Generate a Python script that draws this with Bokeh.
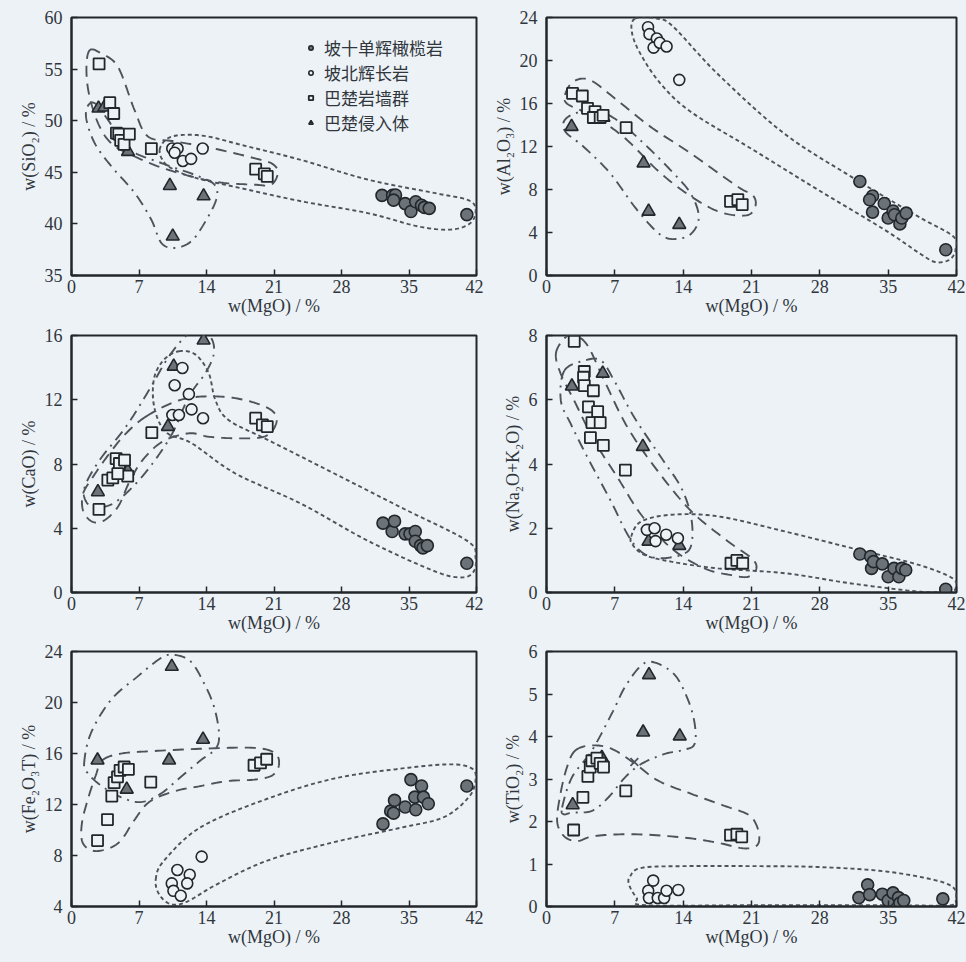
import numpy as np
from bokeh.plotting import figure
from bokeh.layouts import gridplot
from bokeh.models import Range1d, FixedTicker, Legend, LegendItem
from bokeh.embed import file_html
from bokeh.resources import INLINE

# ---------------- data ----------------
GROUPS = ["坡十单辉橄榄岩", "坡北辉长岩", "巴楚岩墙群", "巴楚侵入体"]
X_TICKS = [0, 7, 14, 21, 28, 35, 42]

# SiO2
SIO2_OL_MGO = [32.2, 33.3, 33.6, 33.4, 34.6, 35.2, 35.7, 36.3, 36.6, 37.1, 41.0]
SIO2_OL = [42.76, 42.76, 42.8, 42.3, 41.96, 41.2, 42.15, 41.8, 41.6, 41.5, 40.9]
SIO2_GB_MGO = [10.45, 11.0, 10.7, 11.55, 12.4, 13.6]
SIO2_GB = [47.3, 47.3, 46.9, 46.1, 46.3, 47.3]
SIO2_DK_MGO = [2.86, 3.97, 4.38, 4.66, 4.9, 5.1, 5.45, 6.0, 8.28, 19.1, 20.0, 20.3]
SIO2_DK = [55.5, 51.75, 50.7, 48.8, 48.7, 48.1, 47.7, 48.7, 47.3, 45.3, 44.85, 44.6]
SIO2_IN_MGO = [2.8, 3.4, 5.86, 10.2, 13.7, 10.5]
SIO2_IN = [51.2, 51.3, 47.0, 43.7, 42.7, 38.8]

# Al2O3
AL_OL_MGO = [32.1, 33.4, 33.1, 33.4, 34.6, 35.0, 35.5, 35.65, 36.2, 36.4, 36.85, 40.9]
AL_OL = [8.75, 7.4, 7.05, 5.9, 6.7, 5.35, 6.0, 5.65, 4.8, 5.35, 5.8, 2.4]
AL_GB_MGO = [10.4, 10.55, 11.3, 10.97, 11.6, 12.3, 13.6]
AL_GB = [23.1, 22.45, 22.05, 21.2, 21.65, 21.3, 18.2]
AL_DK_MGO = [2.67, 3.67, 4.2, 4.97, 4.8, 5.5, 5.8, 8.16, 18.85, 19.6, 20.05]
AL_DK = [16.95, 16.7, 15.55, 15.25, 14.7, 14.7, 14.9, 13.75, 6.9, 7.05, 6.6]
AL_IN_MGO = [2.57, 5.83, 9.94, 10.46, 13.6]
AL_IN = [13.85, 14.7, 10.45, 5.97, 4.73]

# CaO
CA_OL_MGO = [32.3, 33.25, 33.5, 34.6, 35.1, 35.65, 35.65, 36.2, 36.45, 36.9, 41.0]
CA_OL = [4.32, 3.8, 4.44, 3.65, 3.65, 3.8, 3.19, 2.92, 2.78, 2.92, 1.82]
CA_GB_MGO = [11.5, 10.7, 12.17, 12.45, 10.46, 11.14, 13.64]
CA_GB = [13.98, 12.9, 12.35, 11.4, 11.05, 11.05, 10.85]
CA_DK_MGO = [2.85, 3.77, 4.28, 4.63, 4.97, 5.5, 5.83, 4.8, 8.33, 19.1, 19.8, 20.3]
CA_DK = [5.17, 7.0, 7.13, 8.34, 8.03, 8.24, 7.24, 7.4, 9.95, 10.85, 10.43, 10.33]
CA_IN_MGO = [2.74, 5.83, 10.0, 10.6, 13.7]
CA_IN = [6.26, 7.57, 10.33, 14.08, 15.7]

# Na2O+K2O
NK_OL_MGO = [32.1, 33.2, 33.3, 33.5, 34.4, 35.0, 35.6, 36.1, 36.4, 36.8, 40.9]
NK_OL = [1.2, 1.12, 0.75, 0.96, 0.89, 0.49, 0.75, 0.49, 0.75, 0.7, 0.1]
NK_GB_MGO = [10.28, 11.07, 11.17, 12.26, 13.46]
NK_GB = [1.95, 2.0, 1.6, 1.8, 1.69]
NK_DK_MGO = [2.84, 3.87, 3.8, 3.87, 4.8, 4.3, 5.24, 4.66, 5.5, 4.5, 5.82, 8.08, 18.9, 19.5, 20.1]
NK_DK = [7.82, 6.88, 6.7, 6.44, 6.28, 5.78, 5.63, 5.29, 5.29, 4.82, 4.58, 3.81, 0.91, 1.0, 0.91]
NK_IN_MGO = [2.6, 5.76, 9.87, 10.45, 13.6]
NK_IN = [6.42, 6.82, 4.54, 1.59, 1.46]

# Fe2O3T
FE_OL_MGO = [32.3, 33.1, 33.4, 33.5, 34.6, 35.2, 35.6, 35.7, 36.3, 36.5, 37.0, 41.0]
FE_OL = [10.48, 11.48, 11.32, 12.32, 11.8, 13.95, 12.58, 11.59, 13.45, 12.58, 12.06, 13.45]
FE_GB_MGO = [13.5, 10.98, 12.26, 10.4, 12.0, 10.57, 11.33]
FE_GB = [7.91, 6.86, 6.49, 5.81, 5.81, 5.23, 4.84]
FE_DK_MGO = [2.7, 3.73, 4.18, 4.42, 4.77, 5.04, 5.46, 5.9, 8.22, 18.93, 19.6, 20.24]
FE_DK = [9.17, 10.82, 12.66, 13.71, 14.16, 14.68, 14.94, 14.76, 13.76, 15.08, 15.26, 15.55]
FE_IN_MGO = [2.7, 5.73, 10.12, 10.4, 13.64]
FE_IN = [15.47, 13.19, 15.47, 22.82, 17.1]

# TiO2
TI_OL_MGO = [32.0, 32.9, 33.1, 34.4, 35.0, 35.5, 36.06, 36.2, 36.6, 40.6]
TI_OL = [0.21, 0.51, 0.28, 0.29, 0.14, 0.32, 0.21, 0.08, 0.14, 0.18]
TI_GB_MGO = [10.93, 10.42, 10.5, 11.4, 12.05, 12.3, 13.5]
TI_GB = [0.61, 0.37, 0.2, 0.2, 0.2, 0.37, 0.39]
TI_DK_MGO = [2.78, 3.73, 4.24, 4.48, 4.65, 5.16, 5.5, 5.84, 8.12, 18.85, 19.5, 20.0]
TI_DK = [1.8, 2.57, 3.06, 3.28, 3.43, 3.49, 3.37, 3.28, 2.72, 1.68, 1.7, 1.64]
TI_IN_MGO = [2.68, 5.67, 9.9, 10.5, 13.65]
TI_IN = [2.39, 3.5, 4.1, 5.45, 4.01]
TI_X_MGO = [9.0]
TI_X = [3.4]

# hand-drawn field outlines (vertices in data units)
ENV_SIO2_DOT = [(9.14, 47.18), (10.0, 48.3), (11.72, 48.63), (14.14, 48.47), (17.6, 47.66), (23.8, 46.2),
                (30.7, 44.3), (37.6, 43.0), (41.0, 42.35), (41.9, 41.5), (41.4, 40.1), (39.3, 39.45),
                (35.9, 39.77), (30.7, 41.05), (23.8, 42.2), (16.9, 43.6), (13.1, 44.4), (11.03, 45.08),
                (9.66, 45.9)]
ENV_SIO2_DASH = [(1.9, 56.84), (3.1, 56.5), (4.83, 55.2), (6.55, 51.0), (7.93, 48.47), (10.7, 48.0),
                 (14.8, 47.3), (19.65, 46.2), (21.0, 45.7), (21.4, 44.9), (20.7, 43.8), (19.0, 43.8),
                 (14.8, 44.1), (10.0, 45.25), (6.55, 46.53), (4.14, 47.8), (2.76, 49.75), (1.8, 52.65),
                 (1.55, 55.2)]
ENV_SIO2_DOTDASH = [(1.66, 51.37), (2.41, 51.69), (3.79, 50.08), (5.86, 47.3), (9.31, 45.9), (12.76, 44.76),
                    (14.83, 43.8), (15.0, 42.35), (13.8, 40.1), (12.4, 38.3), (10.7, 37.67), (9.31, 38.16),
                    (8.28, 40.4), (6.55, 43.0), (4.14, 45.57), (2.41, 47.82), (1.55, 50.1)]

ENV_AL_DOT = [(9.08, 23.9), (11.3, 23.9), (13.0, 23.13), (17.48, 18.8), (24.3, 13.24), (31.2, 9.2),
              (38.05, 5.5), (41.65, 3.65), (41.9, 2.41), (41.3, 1.48), (39.9, 1.24), (38.4, 1.95),
              (34.6, 4.27), (27.8, 7.98), (20.9, 11.84), (14.74, 15.25), (11.66, 17.88), (9.6, 20.66),
              (8.74, 22.67)]
ENV_AL_DASH = [(1.89, 16.8), (2.74, 18.03), (4.46, 18.18), (7.2, 16.33), (10.63, 13.85), (14.74, 11.38),
               (19.54, 8.29), (21.08, 7.51), (21.43, 6.58), (20.74, 5.66), (18.85, 5.66), (16.8, 6.28),
               (14.06, 7.82), (11.31, 9.83), (8.23, 12.62), (5.49, 14.47), (3.43, 15.4), (2.06, 16.02)]
ENV_AL_DOTDASH = [(1.71, 14.16), (2.57, 14.94), (4.8, 15.4), (7.2, 14.47), (9.94, 12.31), (12.68, 9.83),
                  (14.74, 7.67), (15.6, 5.5), (14.9, 3.96), (13.37, 3.4), (11.66, 3.8), (9.26, 6.12),
                  (6.51, 9.52), (3.77, 12.0), (2.06, 13.24)]

ENV_CA_DOT = [(11.14, 15.02), (12.86, 14.81), (14.23, 13.66), (14.91, 12.0), (16.28, 10.74), (20.4, 9.49),
              (27.25, 7.41), (34.1, 5.32), (41.0, 3.23), (41.9, 2.19), (41.65, 1.25), (40.3, 0.94),
              (37.5, 1.36), (30.7, 3.23), (23.8, 5.53), (17.0, 7.41), (12.5, 9.28), (9.77, 10.0),
              (8.57, 11.58), (8.57, 13.35), (9.6, 14.5)]
ENV_CA_DASH = [(7.71, 10.95), (10.8, 11.89), (13.54, 12.2), (16.97, 12.1), (20.05, 11.58), (21.25, 10.95),
               (20.9, 10.12), (19.7, 9.66), (16.97, 9.6), (14.23, 9.7), (12.17, 9.91), (9.43, 9.39),
               (7.37, 8.24), (6.0, 6.88), (4.8, 5.32), (3.26, 4.44), (2.06, 4.44), (1.2, 5.1),
               (1.2, 6.15), (2.23, 7.2), (3.94, 8.66), (5.66, 9.91)]
ENV_CA_DOTDASH = [(12.17, 16.13), (13.54, 16.2), (14.57, 15.75), (14.74, 14.81), (13.88, 13.66), (12.17, 12.2),
                  (10.46, 9.91), (8.4, 8.03), (6.34, 6.57), (4.29, 5.53), (2.57, 5.32), (1.54, 5.63),
                  (1.37, 6.57), (2.91, 8.24), (5.66, 10.33), (8.06, 12.62), (10.11, 14.7)]

ENV_NK_DOT = [(8.67, 1.74), (9.7, 2.21), (12.78, 2.42), (17.57, 2.37), (24.43, 1.9), (31.28, 1.38),
              (38.13, 0.86), (41.6, 0.44), (41.9, 0.13), (41.2, 0.03), (38.13, 0.03), (31.28, 0.28),
              (24.43, 0.6), (17.57, 0.75), (12.78, 0.96), (10.04, 1.17), (8.84, 1.48)]
ENV_NK_DASH = [(0.96, 7.43), (1.8, 7.9), (2.8, 8.02), (4.2, 7.69), (5.93, 6.59), (8.32, 5.13),
               (11.4, 3.78), (14.83, 2.53), (18.6, 1.59), (21.0, 1.07), (21.5, 0.75), (20.66, 0.49),
               (18.95, 0.54), (16.2, 0.75), (12.78, 1.38), (9.7, 2.42), (7.3, 3.57), (4.9, 4.72),
               (2.84, 5.97), (1.47, 6.8)]
ENV_NK_DOTDASH = [(1.82, 6.9), (3.87, 7.22), (5.58, 7.22), (6.95, 6.59), (9.0, 5.45), (11.75, 4.2),
                  (13.8, 3.26), (14.83, 2.32), (14.83, 1.48), (13.8, 1.17), (11.4, 1.07), (9.7, 1.27),
                  (8.32, 1.8), (6.6, 2.84), (4.21, 4.2), (2.5, 5.24), (1.47, 5.97)]

ENV_FE_DOT = [(8.74, 6.15), (9.6, 7.6), (13.4, 10.22), (20.3, 12.45), (27.2, 14.03), (34.1, 14.81),
              (39.3, 15.15), (41.55, 14.81), (41.9, 13.9), (41.2, 12.58), (38.6, 11.0), (34.1, 10.17),
              (27.2, 9.04), (20.3, 7.6), (15.13, 5.76), (12.0, 4.39), (10.3, 4.18), (9.08, 4.97)]
ENV_FE_DASH = [(3.2, 15.47), (5.11, 15.99), (8.22, 16.18), (14.1, 16.39), (18.93, 16.44), (21.07, 16.05),
               (21.52, 15.15), (20.83, 14.29), (18.93, 13.95), (16.17, 13.84), (13.4, 13.45), (10.64, 13.03),
               (8.05, 12.19), (6.5, 10.75), (5.11, 9.17), (3.73, 8.52), (2.18, 8.38), (1.14, 9.04),
               (1.07, 10.48), (1.66, 12.32), (2.52, 14.29)]
ENV_FE_DOTDASH = [(1.31, 15.21), (2.0, 17.57), (4.08, 20.19), (6.84, 22.03), (9.26, 23.48), (10.64, 23.74),
                  (12.37, 23.21), (13.75, 21.5), (14.78, 19.67), (15.3, 17.57), (14.96, 16.39), (13.4, 15.47),
                  (11.33, 14.16), (9.26, 12.85), (7.18, 12.19), (5.11, 12.58), (3.04, 13.5), (1.73, 14.42)]

ENV_TI_DOT = [(8.56, 0.71), (9.75, 0.91), (14.16, 0.95), (20.95, 0.95), (27.74, 0.93), (34.53, 0.83),
              (39.63, 0.63), (41.7, 0.44), (41.9, 0.16), (41.32, 0.03), (34.5, 0.03), (20.95, 0.03),
              (10.1, 0.03), (9.24, 0.2), (8.46, 0.51)]
ENV_TI_DASH = [(2.95, 3.67), (4.65, 3.79), (6.69, 3.71), (9.07, 3.36), (11.44, 2.96), (14.84, 2.65),
               (18.23, 2.37), (20.61, 2.17), (21.46, 1.94), (21.8, 1.62), (21.46, 1.42), (20.1, 1.37),
               (17.55, 1.5), (14.16, 1.62), (9.07, 1.7), (4.99, 1.66), (3.12, 1.54), (1.77, 1.66),
               (1.09, 2.01), (1.43, 2.65), (2.1, 3.28)]
ENV_TI_DOTDASH = [(1.6, 2.33), (2.61, 3.04), (4.65, 3.67), (6.69, 4.54), (8.05, 5.17), (9.75, 5.68),
                  (11.1, 5.74), (13.14, 5.45), (14.5, 4.86), (15.18, 4.3), (15.18, 3.83), (14.16, 3.69),
                  (12.12, 3.59), (9.75, 3.36), (8.05, 3.04), (6.35, 2.57), (4.65, 2.25), (2.61, 2.21),
                  (1.77, 2.17)]

# ---------------- styling ----------------
BG = "#edf2f7"
INK = "#22272c"
TXT = "#30363c"
GREY = "#6c7378"
ENV = "#4c535a"
SERIF = "Liberation Serif"
CJK = "Noto Sans CJK SC"


def smooth_closed(pts, n=14):
    P = np.array(pts, float)
    m = len(P)
    out = []
    for i in range(m):
        p0, p1, p2, p3 = P[(i - 1) % m], P[i], P[(i + 1) % m], P[(i + 2) % m]
        for t in np.linspace(0, 1, n, endpoint=False):
            t2, t3 = t * t, t * t * t
            out.append(0.5 * ((2 * p1) + (-p0 + p2) * t + (2 * p0 - 5 * p1 + 4 * p2 - p3) * t2
                              + (-p0 + 3 * p1 - 3 * p2 + p3) * t3))
    out.append(out[0])
    out = np.array(out)
    return out[:, 0], out[:, 1]


def panel(ylabel, yr, yticks, data, envs, left, right, top, bottom, height, legend=False, extra_x=None):
    p = figure(width=483, height=height, x_range=Range1d(0, 42), y_range=Range1d(*yr),
               output_backend="svg", toolbar_location=None,
               min_border_left=left, min_border_right=right, min_border_top=top, min_border_bottom=bottom,
               background_fill_color=BG, border_fill_color=BG)
    p.styles = {"background-color": BG}
    p.grid.visible = False
    p.outline_line_color = INK
    p.outline_line_width = 2
    for ax in (p.xaxis, p.yaxis):
        ax.axis_line_color = INK
        ax.axis_line_width = 2
        ax.major_tick_in = 6
        ax.major_tick_out = 0
        ax.minor_tick_line_color = None
        ax.major_tick_line_color = INK
        ax.major_tick_line_width = 1.5
        ax.major_label_text_font = SERIF
        ax.major_label_text_font_size = "18px"
        ax.major_label_text_color = TXT
        ax.axis_label_text_font = SERIF
        ax.axis_label_text_font_size = "18px"
        ax.axis_label_text_font_style = "normal"
        ax.axis_label_text_color = TXT
    p.xaxis.ticker = FixedTicker(ticks=X_TICKS)
    p.yaxis.ticker = FixedTicker(ticks=yticks)
    p.xaxis.axis_label = "w(MgO) / %"
    p.yaxis.axis_label = ylabel
    p.xaxis.major_label_standoff = 4
    p.xaxis.axis_label_standoff = 0
    p.yaxis.major_label_standoff = 9
    p.yaxis.axis_label_standoff = 3

    dashes = {"dot": "4 3", "dash": "11 7", "dotdash": "11 6 2 6"}
    for kind, pts in envs:
        ex, ey = smooth_closed(pts)
        p.line(ex, ey, line_color=ENV, line_width=1.9, line_dash=dashes[kind])

    (ol_x, ol_y), (gb_x, gb_y), (dk_x, dk_y), (in_x, in_y) = data
    r_in = p.scatter(in_x, in_y, marker="triangle", size=13, fill_color=GREY, line_color=INK, line_width=1.6)
    r_dk = p.scatter(dk_x, dk_y, marker="square", size=11, fill_color=BG, line_color=INK, line_width=1.8)
    r_gb = p.scatter(gb_x, gb_y, marker="circle", size=11, fill_color=BG, line_color=INK, line_width=1.6)
    r_ol = p.scatter(ol_x, ol_y, marker="circle", size=12, fill_color=GREY, line_color=INK, line_width=1.6)
    if extra_x is not None:
        p.scatter(extra_x[0], extra_x[1], marker="x", size=11, line_color=ENV, line_width=1.8)
    if legend:
        lg = Legend(items=[LegendItem(label=GROUPS[0], renderers=[r_ol]),
                           LegendItem(label=GROUPS[1], renderers=[r_gb]),
                           LegendItem(label=GROUPS[2], renderers=[r_dk]),
                           LegendItem(label=GROUPS[3], renderers=[r_in])],
                    location=(234, 140), background_fill_alpha=0, border_line_color=None,
                    label_text_font=CJK, label_text_font_size="17px", label_text_color=TXT,
                    glyph_width=11, glyph_height=11, label_standoff=8, label_height=20,
                    spacing=0, padding=5, margin=0)
        p.add_layout(lg, "center")
    return p


p1 = panel("w(SiO₂) / %", (35, 60), [35, 40, 45, 50, 55, 60],
           [(SIO2_OL_MGO, SIO2_OL), (SIO2_GB_MGO, SIO2_GB), (SIO2_DK_MGO, SIO2_DK), (SIO2_IN_MGO, SIO2_IN)],
           [("dot", ENV_SIO2_DOT), ("dash", ENV_SIO2_DASH), ("dotdash", ENV_SIO2_DOTDASH)],
           69, 7, 17, 42, 318, legend=True)
p2 = panel("w(Al₂O₃) / %", (0, 24), [0, 4, 8, 12, 16, 20, 24],
           [(AL_OL_MGO, AL_OL), (AL_GB_MGO, AL_GB), (AL_DK_MGO, AL_DK), (AL_IN_MGO, AL_IN)],
           [("dot", ENV_AL_DOT), ("dash", ENV_AL_DASH), ("dotdash", ENV_AL_DOTDASH)],
           63, 10, 17, 42, 318)
p3 = panel("w(CaO) / %", (0, 16), [0, 4, 8, 12, 16],
           [(CA_OL_MGO, CA_OL), (CA_GB_MGO, CA_GB), (CA_DK_MGO, CA_DK), (CA_IN_MGO, CA_IN)],
           [("dot", ENV_CA_DOT), ("dash", ENV_CA_DASH), ("dotdash", ENV_CA_DOTDASH)],
           69, 7, 17, 44, 318)
p4 = panel("w(Na₂O+K₂O) / %", (0, 8), [0, 2, 4, 6, 8],
           [(NK_OL_MGO, NK_OL), (NK_GB_MGO, NK_GB), (NK_DK_MGO, NK_DK), (NK_IN_MGO, NK_IN)],
           [("dot", ENV_NK_DOT), ("dash", ENV_NK_DASH), ("dotdash", ENV_NK_DOTDASH)],
           63, 10, 17, 44, 318)
p5 = panel("w(Fe₂O₃T) / %", (4, 24), [4, 8, 12, 16, 20, 24],
           [(FE_OL_MGO, FE_OL), (FE_GB_MGO, FE_GB), (FE_DK_MGO, FE_DK), (FE_IN_MGO, FE_IN)],
           [("dot", ENV_FE_DOT), ("dash", ENV_FE_DASH), ("dotdash", ENV_FE_DOTDASH)],
           71, 7, 15, 56, 326)
p6 = panel("w(TiO₂) / %", (0, 6), [0, 1, 2, 3, 4, 5, 6],
           [(TI_OL_MGO, TI_OL), (TI_GB_MGO, TI_GB), (TI_DK_MGO, TI_DK), (TI_IN_MGO, TI_IN)],
           [("dot", ENV_TI_DOT), ("dash", ENV_TI_DASH), ("dotdash", ENV_TI_DOTDASH)],
           61, 10, 15, 56, 326, extra_x=(TI_X_MGO, TI_X))

grid = gridplot([[p1, p2], [p3, p4], [p5, p6]], toolbar_location=None)
grid.styles = {"background-color": BG}
open("out.html", "w").write(file_html(grid, INLINE))
